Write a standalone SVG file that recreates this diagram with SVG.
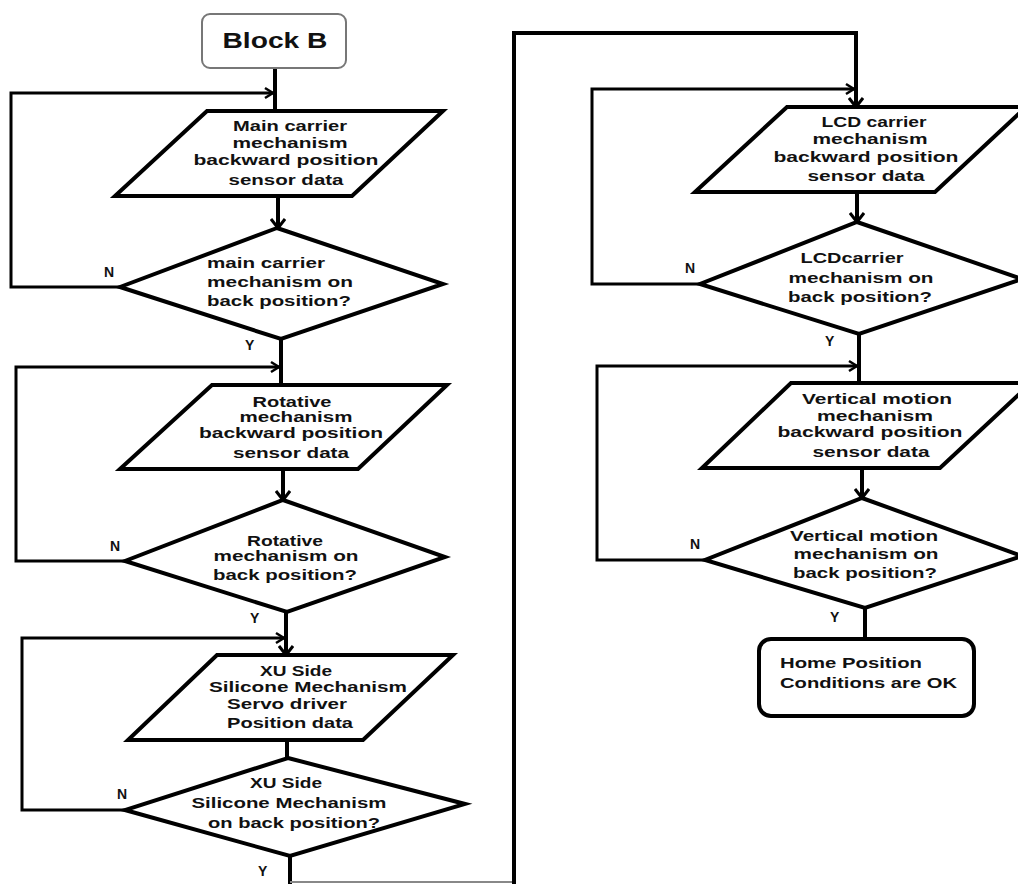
<svg xmlns="http://www.w3.org/2000/svg" width="1018" height="884" viewBox="0 0 1018 884">
<style>
.shape{fill:#fff;stroke:#000;stroke-width:4;stroke-linejoin:miter}
.t{font-family:"Liberation Sans",Arial,sans-serif;font-weight:bold;font-size:15px;fill:#111;text-anchor:middle}
.ts{font-family:"Liberation Sans",Arial,sans-serif;font-weight:bold;font-size:15px;fill:#111}
.lbl{font-family:"Liberation Sans",Arial,sans-serif;font-weight:bold;font-size:14px;fill:#111}
.flow{fill:none;stroke:#000;stroke-width:4}
.loop{fill:none;stroke:#000;stroke-width:3}
.thin{fill:none;stroke:#888;stroke-width:2}
</style>
<defs>
<marker id="ah" markerUnits="userSpaceOnUse" markerWidth="14" markerHeight="14" refX="11" refY="7" orient="auto">
<path d="M3,2 L11,7 L3,12" fill="none" stroke="#000" stroke-width="2.5"/>
</marker>
<marker id="ahv" markerUnits="userSpaceOnUse" markerWidth="16" markerHeight="16" refX="12" refY="8" orient="auto">
<path d="M3,1 L12,8 L3,15" fill="none" stroke="#000" stroke-width="3"/>
</marker>
</defs>
<rect width="1018" height="884" fill="#fff"/>
<g id="connectors">
<line class="flow" x1="275" y1="68" x2="275" y2="111"/>
<polyline class="loop" points="120,287 11,287 11,93 273,93" marker-end="url(#ah)"/>
<line class="flow" x1="278" y1="196" x2="278" y2="228" marker-end="url(#ahv)"/>
<line class="flow" x1="281" y1="339" x2="281" y2="385"/>
<polyline class="loop" points="125,561 16,561 16,367 279,367" marker-end="url(#ah)"/>
<line class="flow" x1="283" y1="469" x2="283" y2="500" marker-end="url(#ahv)"/>
<line class="flow" x1="286" y1="612" x2="286" y2="655" marker-end="url(#ahv)"/>
<polyline class="loop" points="125,810 22,810 22,638 284,638" marker-end="url(#ah)"/>
<line class="flow" x1="287" y1="740" x2="287" y2="758"/>
<line class="flow" x1="290" y1="856" x2="290" y2="884"/>
<line class="thin" x1="290" y1="882" x2="514" y2="882"/>
<polyline class="flow" points="514,884 514,33 856,33 856,107" marker-end="url(#ahv)"/>
<polyline class="loop" points="700,284 592,284 592,89 854,89" marker-end="url(#ah)"/>
<line class="flow" x1="857" y1="192" x2="857" y2="222" marker-end="url(#ahv)"/>
<line class="flow" x1="859" y1="334" x2="859" y2="383"/>
<polyline class="loop" points="705,560 597,560 597,366 857,366" marker-end="url(#ah)"/>
<line class="flow" x1="862" y1="468" x2="862" y2="498" marker-end="url(#ahv)"/>
<line class="flow" x1="865" y1="608" x2="865" y2="638"/>
<text class="lbl" x="104" y="277">N</text>
<text class="lbl" x="245" y="350">Y</text>
<text class="lbl" x="110" y="551">N</text>
<text class="lbl" x="250" y="623">Y</text>
<text class="lbl" x="117" y="799">N</text>
<text class="lbl" x="258" y="876">Y</text>
<text class="lbl" x="685" y="273">N</text>
<text class="lbl" x="825" y="346">Y</text>
<text class="lbl" x="690" y="549">N</text>
<text class="lbl" x="830" y="622">Y</text>
</g>
<g id="start">
<rect x="202" y="14" width="144" height="54" rx="8" fill="#fff" stroke="#777" stroke-width="2"/>
<text class="t" x="275" y="48" style="font-size:22px" textLength="105" lengthAdjust="spacingAndGlyphs">Block B</text>
</g>
<g id="p1">
<polygon class="shape" points="207,111 443,111 352,196 115,196"/>
<text class="t" x="290" y="131" textLength="114" lengthAdjust="spacingAndGlyphs">Main carrier</text>
<text class="t" x="290" y="148" textLength="115" lengthAdjust="spacingAndGlyphs">mechanism</text>
<text class="t" x="286" y="165" textLength="185" lengthAdjust="spacingAndGlyphs">backward  position</text>
<text class="t" x="286" y="185" textLength="115" lengthAdjust="spacingAndGlyphs">sensor data</text>
</g>
<g id="d1">
<polygon class="shape" points="277,228 443,284 281,339 120,287"/>
<text class="ts" x="207" y="268" textLength="118" lengthAdjust="spacingAndGlyphs">main carrier</text>
<text class="ts" x="207" y="287" textLength="146" lengthAdjust="spacingAndGlyphs">mechanism on</text>
<text class="ts" x="207" y="306" textLength="144" lengthAdjust="spacingAndGlyphs">back position?</text>
</g>
<g id="p2">
<polygon class="shape" points="212,385 447,385 358,469 120,469"/>
<text class="t" x="292" y="407" textLength="79" lengthAdjust="spacingAndGlyphs">Rotative</text>
<text class="t" x="296" y="422" textLength="113" lengthAdjust="spacingAndGlyphs">mechanism</text>
<text class="t" x="291" y="438" textLength="184" lengthAdjust="spacingAndGlyphs">backward  position</text>
<text class="t" x="291" y="458" textLength="116" lengthAdjust="spacingAndGlyphs">sensor data</text>
</g>
<g id="d2">
<polygon class="shape" points="283,500 445,557 287,612 125,561"/>
<text class="t" x="285" y="546" textLength="76" lengthAdjust="spacingAndGlyphs">Rotative</text>
<text class="t" x="286" y="561" textLength="145" lengthAdjust="spacingAndGlyphs">mechanism on</text>
<text class="t" x="285" y="580" textLength="144" lengthAdjust="spacingAndGlyphs">back position?</text>
</g>
<g id="p3">
<polygon class="shape" points="217,655 453,655 363,740 128,740"/>
<text class="t" x="296" y="676" textLength="72" lengthAdjust="spacingAndGlyphs">XU Side</text>
<text class="t" x="308" y="692" textLength="198" lengthAdjust="spacingAndGlyphs">Silicone  Mechanism</text>
<text class="t" x="287" y="709" textLength="120" lengthAdjust="spacingAndGlyphs">Servo driver</text>
<text class="t" x="290" y="728" textLength="126" lengthAdjust="spacingAndGlyphs">Position data</text>
</g>
<g id="d3">
<polygon class="shape" points="288,758 465,804 290,856 125,810"/>
<text class="t" x="286" y="788" textLength="72" lengthAdjust="spacingAndGlyphs">XU Side</text>
<text class="t" x="289" y="808" textLength="195" lengthAdjust="spacingAndGlyphs">Silicone Mechanism</text>
<text class="t" x="294" y="828" textLength="172" lengthAdjust="spacingAndGlyphs">on back position?</text>
</g>
<g id="p4">
<polygon class="shape" points="787,107 1026,107 935,192 695,192"/>
<text class="t" x="874" y="127" textLength="105" lengthAdjust="spacingAndGlyphs">LCD carrier</text>
<text class="t" x="870" y="144" textLength="115" lengthAdjust="spacingAndGlyphs">mechanism</text>
<text class="t" x="866" y="162" textLength="185" lengthAdjust="spacingAndGlyphs">backward  position</text>
<text class="t" x="866" y="181" textLength="117" lengthAdjust="spacingAndGlyphs">sensor data</text>
</g>
<g id="d4">
<polygon class="shape" points="857,222 1022,279 859,334 700,284"/>
<text class="t" x="852" y="263" textLength="103" lengthAdjust="spacingAndGlyphs">LCDcarrier</text>
<text class="t" x="861" y="283" textLength="145" lengthAdjust="spacingAndGlyphs">mechanism on</text>
<text class="t" x="860" y="302" textLength="144" lengthAdjust="spacingAndGlyphs">back position?</text>
</g>
<g id="p5">
<polygon class="shape" points="791,383 1031,383 940,468 702,468"/>
<text class="t" x="877" y="404" textLength="150" lengthAdjust="spacingAndGlyphs">Vertical motion</text>
<text class="t" x="875" y="421" textLength="116" lengthAdjust="spacingAndGlyphs">mechanism</text>
<text class="t" x="870" y="437" textLength="185" lengthAdjust="spacingAndGlyphs">backward  position</text>
<text class="t" x="871" y="457" textLength="117" lengthAdjust="spacingAndGlyphs">sensor data</text>
</g>
<g id="d5">
<polygon class="shape" points="862,498 1022,556 865,608 705,560"/>
<text class="t" x="864" y="541" textLength="148" lengthAdjust="spacingAndGlyphs">Vertical motion</text>
<text class="t" x="866" y="559" textLength="145" lengthAdjust="spacingAndGlyphs">mechanism on</text>
<text class="t" x="865" y="578" textLength="144" lengthAdjust="spacingAndGlyphs">back position?</text>
</g>
<g id="end">
<rect class="shape" x="759" y="639" width="215" height="77" rx="12"/>
<text class="ts" x="780" y="668" textLength="142" lengthAdjust="spacingAndGlyphs">Home Position</text>
<text class="ts" x="780" y="688" textLength="177" lengthAdjust="spacingAndGlyphs">Conditions are OK</text>
</g>
</svg>
